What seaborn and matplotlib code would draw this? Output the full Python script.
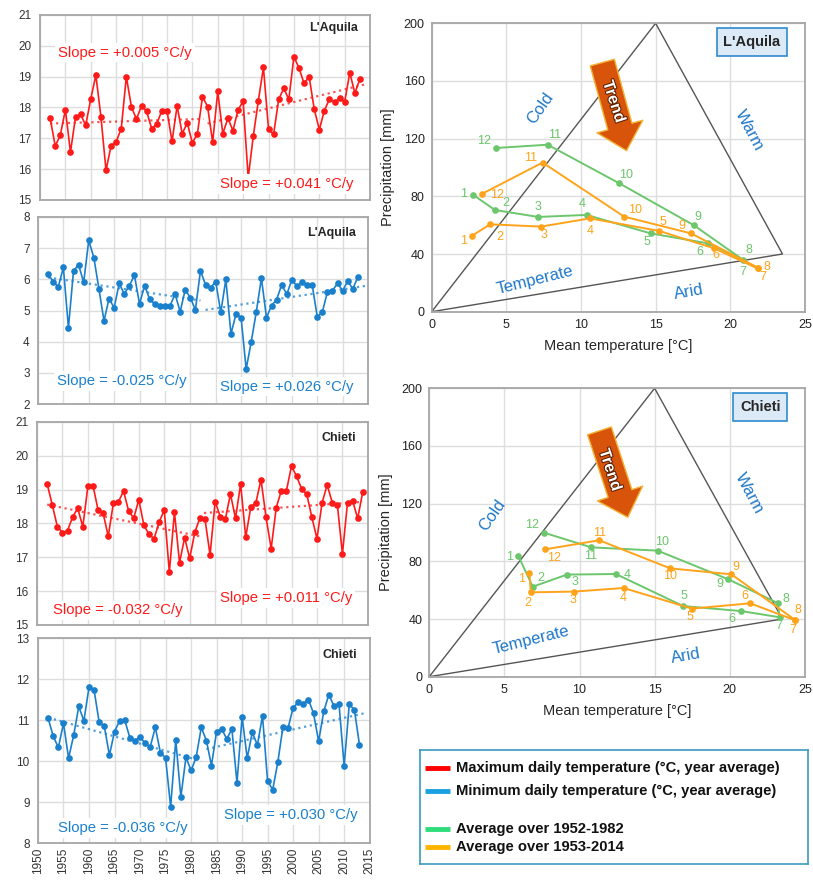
import numpy as np
import matplotlib
matplotlib.use("Agg")
import matplotlib.pyplot as plt
import matplotlib.patheffects as pe
import seaborn as sns

sns.set_theme(style="white")
plt.rcParams['font.family'] = ['Liberation Sans', 'DejaVu Sans']

# -------------------------------
# Data: yearly temperatures
# -------------------------------
years = list(range(1952, 2014))
years_chieti_max = list(range(1952, 2015))

aquila_max = [17.65, 16.75, 17.1, 17.93, 16.55, 17.7, 17.78, 17.42, 18.28, 19.05,
              17.7, 15.96, 16.76, 16.89, 17.31, 19.0, 18.02, 17.62, 18.06, 17.87,
              17.31, 17.47, 17.9, 17.9, 16.9, 18.05, 17.15, 17.5, 16.85, 17.15,
              18.35, 18.03, 16.87, 18.52, 17.15, 17.65, 17.25, 17.92, 18.2, 15.72,
              17.07, 18.22, 19.3, 17.3, 17.13, 18.26, 18.62, 18.26, 19.65, 19.28,
              18.78, 19.0, 17.95, 17.28, 17.9, 18.27, 18.17, 18.3, 18.18, 19.13,
              18.47, 18.92]

aquila_min = [6.17, 5.93, 5.76, 6.38, 4.45, 6.27, 6.47, 5.9, 7.25, 6.7,
              5.7, 4.67, 5.38, 5.09, 5.87, 5.53, 5.8, 6.13, 5.21, 5.8,
              5.36, 5.21, 5.16, 5.16, 5.15, 5.53, 4.96, 5.67, 5.41, 5.02,
              6.27, 5.83, 5.73, 5.93, 4.94, 6.0, 4.25, 4.88, 4.77, 3.12,
              4.0, 4.96, 6.04, 4.77, 5.16, 5.35, 5.83, 5.52, 5.99, 5.78,
              5.9, 5.82, 5.82, 4.8, 4.95, 5.6, 5.64, 5.87, 5.63, 5.95,
              5.69, 6.08]

chieti_max = [19.17, 18.55, 17.91, 17.73, 17.79, 18.19, 18.45, 17.9, 19.1, 19.12,
              18.4, 18.3, 17.62, 18.6, 18.64, 18.96, 18.37, 18.16, 18.7, 17.95,
              17.68, 17.55, 18.04, 18.4, 16.56, 18.34, 16.84, 17.58, 16.97, 17.74,
              18.16, 18.13, 17.07, 18.65, 18.2, 18.13, 18.87, 18.15, 19.17, 17.59,
              18.49, 18.61, 19.3, 18.18, 17.26, 18.47, 18.97, 18.97, 19.7, 19.39,
              19.02, 18.86, 18.18, 17.55, 18.61, 19.14, 18.62, 18.56, 17.1, 18.62,
              18.67, 18.15, 18.94]

chieti_min = [11.04, 10.6, 10.33, 10.92, 10.07, 10.63, 11.33, 10.98, 11.8, 11.73,
              10.94, 10.85, 10.14, 10.72, 10.98, 11.0, 10.57, 10.5, 10.59, 10.43,
              10.35, 10.82, 10.2, 10.08, 8.88, 10.51, 9.12, 10.09, 9.77, 10.09,
              10.82, 10.5, 9.89, 10.72, 10.78, 10.54, 10.78, 9.47, 11.08, 10.07,
              10.7, 10.39, 11.1, 9.51, 9.3, 9.97, 10.83, 10.8, 11.3, 11.43,
              11.4, 11.5, 11.16, 10.48, 11.21, 11.62, 11.34, 11.38, 9.88, 11.38,
              11.25, 10.4]

# trend segments (start/end year, start/end value)
aquila_max_trend = [([1952, 1982.2], [17.48, 17.63]), ([1983, 2014.5], [17.48, 18.77])]
aquila_min_trend = [([1952, 1982], [6.06, 5.32]), ([1983, 2014.5], [5.02, 5.79])]
chieti_max_trend = [([1952, 1982], [18.56, 17.62]), ([1982.8, 2014], [18.31, 18.64])]
chieti_min_trend = [([1952, 1982], [11.06, 10.0]), ([1983, 2014.5], [10.29, 11.18])]

aquila_max_slopes = ["Slope = +0.005 °C/y", "Slope = +0.041 °C/y"]
aquila_min_slopes = ["Slope = -0.025 °C/y", "Slope = +0.026 °C/y"]
chieti_max_slopes = ["Slope = -0.032 °C/y", "Slope = +0.011 °C/y"]
chieti_min_slopes = ["Slope = -0.036 °C/y", "Slope = +0.030 °C/y"]

# -------------------------------
# Data: monthly climographs
# -------------------------------
months = list(range(1, 13))
aq_green_t = [2.79, 4.24, 7.14, 10.38, 14.67, 18.5, 20.87, 20.87, 17.57, 12.57, 7.77, 4.31]
aq_green_p = [80.9, 70.5, 65.7, 67.1, 54.3, 47.4, 33.5, 38.2, 59.9, 89.0, 115.8, 113.5]
aq_orange_t = [2.68, 3.91, 7.32, 10.6, 15.25, 18.93, 21.83, 21.87, 17.37, 12.9, 7.43, 3.35]
aq_orange_p = [52.5, 60.6, 59.0, 64.7, 56.0, 43.9, 30.0, 30.5, 54.3, 65.9, 103.4, 81.6]

ch_green_t = [5.93, 6.89, 9.16, 12.42, 16.89, 20.76, 23.33, 23.18, 19.87, 15.2, 10.78, 7.62]
ch_green_p = [83.7, 62.4, 70.8, 71.2, 49.0, 45.5, 41.2, 51.1, 67.7, 87.4, 89.7, 99.9]
ch_orange_t = [6.67, 6.76, 9.64, 12.93, 17.49, 21.36, 24.31, 24.33, 20.11, 16.04, 11.31, 7.71]
ch_orange_p = [71.7, 58.5, 59.0, 61.5, 47.2, 50.9, 39.3, 39.5, 71.0, 75.1, 94.6, 88.3]

tri_t = [0, 15, 23.5, 0]
tri_p = [0, 200, 40, 0]

# label offsets (points) for month numbers
aq_green_off = [(-7, 1), (8, 5), (0, 7), (-3, 8), (-3, -6), (-5.5, -6.5), (0, -6), (4, 4.5), (3, 6), (5, 6), (5, 7), (-8.5, 5)]
aq_orange_off = [(-6, -3.5), (7, -9), (2.5, -6), (0, -9), (2.5, 6.5), (1, -5), (3.5, -6.5), (6.5, 0.5), (-6.5, 5), (8, 4.5), (-8.5, 3), (11, -0.5)]
ch_green_off = [(-6, -0.5), (5.5, 6.5), (5.5, -5), (8, -0.5), (1, 7), (-6.5, -5.5), (-0.5, -6), (6, 3), (-5.5, -3.5), (3.5, 6), (-0.5, -6), (-8.5, 5.5)]
ch_orange_off = [(-6, -4), (-2.5, -8), (-0.5, -6), (-0.5, -7.5), (-1.5, -6), (-4, 5.5), (-1.5, -7.5), (2.5, 7), (3, 5), (0, -5.5), (0, 5.5), (6.5, -6)]

RED = "#ff1a1a"
BLUE = "#1b80cc"
GREEN = "#6cc66c"
ORANGE = "#ffa31a"
REGION_BLUE = "#1f78c8"
FRAME = "#a6a6a6"
GRID = "#dddddd"

fig = plt.figure(figsize=(8.13, 8.81), dpi=100)


def time_panel(rect, x, y, trend, slopes, color, ylim, station, slope_pos, label_y, show_x=False):
    ax = fig.add_axes(rect)
    sns.lineplot(x=x, y=y, ax=ax, color=color, marker="o", markersize=4.8,
                 markeredgewidth=0, linewidth=1.2)
    for tx, ty in trend:
        ax.plot(tx, ty, linestyle=":", color=color, linewidth=1.6, alpha=0.75)
    ax.set_xlim(1950, 2015)
    ax.set_ylim(*ylim)
    ax.set_xticks(range(1950, 2016, 5))
    ax.set_yticks(range(ylim[0], ylim[1] + 1))
    ax.grid(True, color=GRID, linewidth=1)
    ax.set_axisbelow(True)
    for s in ax.spines.values():
        s.set_color(FRAME)
        s.set_linewidth(1.3)
    ax.tick_params(axis="y", labelsize=8.5, colors="#333333", length=0, pad=6)
    if show_x:
        ax.tick_params(axis="x", labelsize=8.5, colors="#333333", length=0, rotation=90)
    else:
        ax.tick_params(axis="x", labelbottom=False, length=0)
    for (sx, sy), txt in zip(slope_pos, slopes):
        ax.text(sx, sy, txt, color=color, fontsize=10.7, ha="left", va="center",
                bbox=dict(facecolor="white", edgecolor="none", pad=2))
    ax.text(2012.6, label_y, station, fontsize=9, fontweight="bold", ha="right", va="center")
    ax.set_xlabel("")
    ax.set_ylabel("")
    return ax


time_panel([0.0492, 0.773, 0.406, 0.210], years, aquila_max, aquila_max_trend, aquila_max_slopes,
           RED, (15, 21), "L'Aquila", [(1953.6, 19.78), (1985.5, 15.52)], 20.57)
time_panel([0.0467, 0.5414, 0.406, 0.2123], years, aquila_min, aquila_min_trend, aquila_min_slopes,
           BLUE, (2, 8), "L'Aquila", [(1953.7, 2.74), (1985.9, 2.56)], 7.5)
time_panel([0.0455, 0.2906, 0.407, 0.2304], years_chieti_max, chieti_max, chieti_max_trend, chieti_max_slopes,
           RED, (15, 21), "Chieti", [(1953.1, 15.43), (1986.0, 15.8)], 20.52)
time_panel([0.0467, 0.0431, 0.408, 0.2327], years, chieti_min, chieti_min_trend, chieti_min_slopes,
           BLUE, (8, 13), "Chieti", [(1954.0, 8.37), (1986.4, 8.68)], 12.59, show_x=True)


def clima_panel(rect, gt, gp, ot, op, goff, ooff, station, region_pos, trend_arrow, trend_txt):
    ax = fig.add_axes(rect)
    ax.plot(tri_t, tri_p, color="#555555", linewidth=1.0)
    for t, p, off, col in [(gt, gp, goff, GREEN), (ot, op, ooff, ORANGE)]:
        sns.lineplot(x=t + t[:1], y=p + p[:1], sort=False, ax=ax, color=col,
                     marker="o", markersize=4.8, markeredgewidth=0, linewidth=1.4)
        for m, xx, yy, o in zip(months, t, p, off):
            ax.annotate(str(m), (xx, yy), xytext=o, textcoords="offset points",
                        color=col, fontsize=9, ha="center", va="center")
    ax.set_xlim(0, 25)
    ax.set_ylim(0, 200)
    ax.set_xticks(range(0, 26, 5))
    ax.set_yticks(range(0, 201, 40))
    ax.grid(True, color=GRID, linewidth=1)
    ax.set_axisbelow(True)
    for s in ax.spines.values():
        s.set_color(FRAME)
        s.set_linewidth(1.3)
    ax.tick_params(labelsize=9, colors="#222222", length=0, pad=5)
    ax.set_xlabel("Mean temperature [°C]", fontsize=10.5, labelpad=6)
    ax.set_ylabel("Precipitation [mm]", fontsize=10.5, labelpad=6)
    names = ["Cold", "Warm", "Temperate", "Arid"]
    rots = [55, -62, 14, 10]
    for n, (rx, ry), r in zip(names, region_pos, rots):
        ax.text(rx, ry, n, color=REGION_BLUE, fontsize=12, rotation=r,
                ha="center", va="center", rotation_mode="anchor")
    (x0, y0), (x1, y1) = trend_arrow
    ax.annotate("", xy=(x1, y1), xytext=(x0, y0),
                arrowprops=dict(arrowstyle="simple,head_length=1.0,head_width=1.9,tail_width=1.0",
                                mutation_scale=18, fc="#d9540b", ec="#f2b233", lw=1.0))
    ax.text(trend_txt[0], trend_txt[1], "Trend", rotation=-72, fontsize=11.5, fontweight="bold",
            color="white", ha="center", va="center", rotation_mode="anchor",
            path_effects=[pe.withStroke(linewidth=1.5, foreground="#5a2000")])
    ax.text(0.935, 0.935, station, transform=ax.transAxes, fontsize=10.5, fontweight="bold",
            ha="right", va="center",
            bbox=dict(facecolor="#dce9f6", edgecolor="#2e8bd0", boxstyle="square,pad=0.45", lw=1.2))
    return ax


clima_panel([0.531, 0.6462, 0.459, 0.3274], aq_green_t, aq_green_p, aq_orange_t, aq_orange_p,
            aq_green_off, aq_orange_off, "L'Aquila",
            [(7.3, 141), (21.3, 126), (6.9, 22), (17.2, 13.6)],
            [(11.38, 174.6), (13.1, 109.8)], (12.2, 145.7))
clima_panel([0.528, 0.2319, 0.462, 0.3274], ch_green_t, ch_green_p, ch_orange_t, ch_orange_p,
            ch_green_off, ch_orange_off, "Chieti",
            [(4.2, 111.7), (21.3, 127), (6.8, 25.4), (17.1, 14.6)],
            [(11.27, 172.3), (13.27, 108.7)], (12.04, 143.4))

# -------------------------------
# Legend box
# -------------------------------
leg_labels = ["Maximum daily temperature (°C, year average)",
              "Minimum daily temperature (°C, year average)",
              "Average over 1952-1982",
              "Average over 1953-2014"]
leg_colors = ["#ff0000", "#1ba1e2", "#2edc7a", "#ffb400"]
leg_y = [0.842, 0.640, 0.307, 0.149]

lax = fig.add_axes([0.5166, 0.0193, 0.4772, 0.1294])
lax.set_xlim(0, 1)
lax.set_ylim(0, 1)
lax.set_xticks([])
lax.set_yticks([])
for s in lax.spines.values():
    s.set_color("#3a9ac0")
    s.set_linewidth(1.2)
for lab, col, yy in zip(leg_labels, leg_colors, leg_y):
    lax.plot([0.013, 0.077], [yy, yy], color=col, linewidth=3.5, solid_capstyle="butt")
    lax.text(0.092, yy, lab, fontsize=10.6, fontweight="bold", va="center", ha="left", color="#111111")

fig.savefig("out.png", dpi=100)
